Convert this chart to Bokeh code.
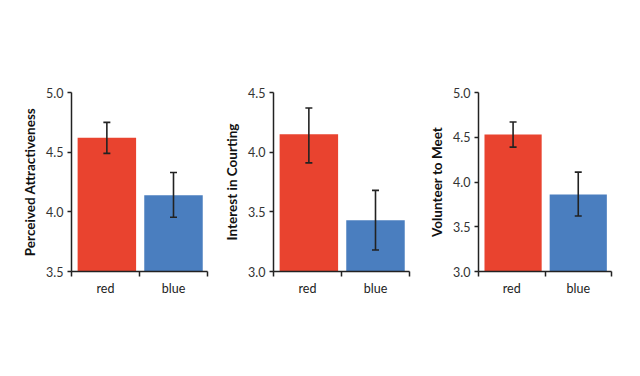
from bokeh.plotting import figure
from bokeh.layouts import row
from bokeh.models import Range1d, FixedTicker, ColumnDataSource, Whisker, TeeHead
from bokeh.embed import file_html
from bokeh.resources import INLINE

categories = ["red", "blue"]
colors = ["#E9432F", "#4A7EBF"]

titles = ["Perceived Attractiveness", "Interest in Courting", "Volunteer to Meet"]
means = [[4.62, 4.14], [4.15, 3.43], [4.53, 3.86]]
upper = [[4.75, 4.33], [4.37, 3.68], [4.67, 4.11]]
lower = [[4.49, 3.955], [3.91, 3.18], [4.39, 3.62]]
y_limits = [(3.5, 5.0), (3.0, 4.5), (3.0, 5.0)]
y_ticks = [[3.5, 4.0, 4.5, 5.0], [3.0, 3.5, 4.0, 4.5], [3.0, 3.5, 4.0, 4.5, 5.0]]

FONT = "Lato"
left_borders = [71, 63, 66]
frame_widths = [136, 136, 133]

figs = []
for i in range(3):
    ymin, ymax = y_limits[i]
    lb = left_borders[i]
    fw = frame_widths[i]
    p = figure(width=lb + fw + 3, height=92 + 179 + 45,
               x_range=Range1d(0, 2), y_range=Range1d(ymin, ymax),
               output_backend="svg", toolbar_location=None,
               min_border_left=lb, min_border_right=3,
               min_border_top=92, min_border_bottom=45)
    p.outline_line_color = None
    p.xgrid.visible = False
    p.ygrid.visible = False
    p.background_fill_color = "white"
    p.border_fill_color = "white"

    xs = [0.52, 1.5]
    src = ColumnDataSource(dict(x=xs, top=means[i], bottom=[ymin, ymin],
                                upper=upper[i], lower=lower[i], color=colors))
    p.vbar(x="x", top="top", bottom="bottom", width=0.86, color="color",
           line_color=None, source=src)
    w = Whisker(base="x", upper="upper", lower="lower", source=src,
                line_color="#222222", line_width=1.6, level="overlay",
                upper_head=TeeHead(size=7, line_color="#222222", line_width=1.6),
                lower_head=TeeHead(size=7, line_color="#222222", line_width=1.6))
    p.add_layout(w)

    # x axis
    xa = p.xaxis[0]
    xa.ticker = FixedTicker(ticks=[0.5, 1.5], minor_ticks=[0, 1, 2])
    xa.major_label_overrides = {0.5: categories[0], 1.5: categories[1]}
    xa.major_tick_out = 0
    xa.major_tick_in = 0
    xa.minor_tick_out = 5
    xa.minor_tick_in = 0
    xa.minor_tick_line_color = "#222222"
    xa.minor_tick_line_width = 1.5
    xa.axis_line_color = "#222222"
    xa.axis_line_width = 1.5
    xa.major_label_text_font = FONT
    xa.major_label_text_font_size = "12.5px"
    xa.major_label_text_color = "#222222"
    xa.major_label_standoff = 4

    # y axis
    ya = p.yaxis[0]
    ya.ticker = FixedTicker(ticks=y_ticks[i], minor_ticks=[])
    ya.major_label_overrides = {t: f"{t:.1f}" for t in y_ticks[i]}
    ya.major_tick_out = 4
    ya.major_tick_in = 0
    ya.major_tick_line_color = "#222222"
    ya.major_tick_line_width = 1.5
    ya.minor_tick_line_color = None
    ya.axis_line_color = "#222222"
    ya.axis_line_width = 1.5
    ya.major_label_text_font = FONT
    ya.major_label_text_font_size = "12.5px"
    ya.major_label_text_color = "#333333"
    ya.major_label_standoff = 4
    ya.axis_label = titles[i]
    ya.axis_label_text_font = FONT
    ya.axis_label_text_font_size = "13.5px"
    ya.axis_label_text_font_style = "bold"
    ya.axis_label_text_color = "#111111"
    ya.axis_label_standoff = 5
    figs.append(p)

layout = row(*figs, spacing=0)
open("out.html", "w").write(file_html(layout, INLINE))
